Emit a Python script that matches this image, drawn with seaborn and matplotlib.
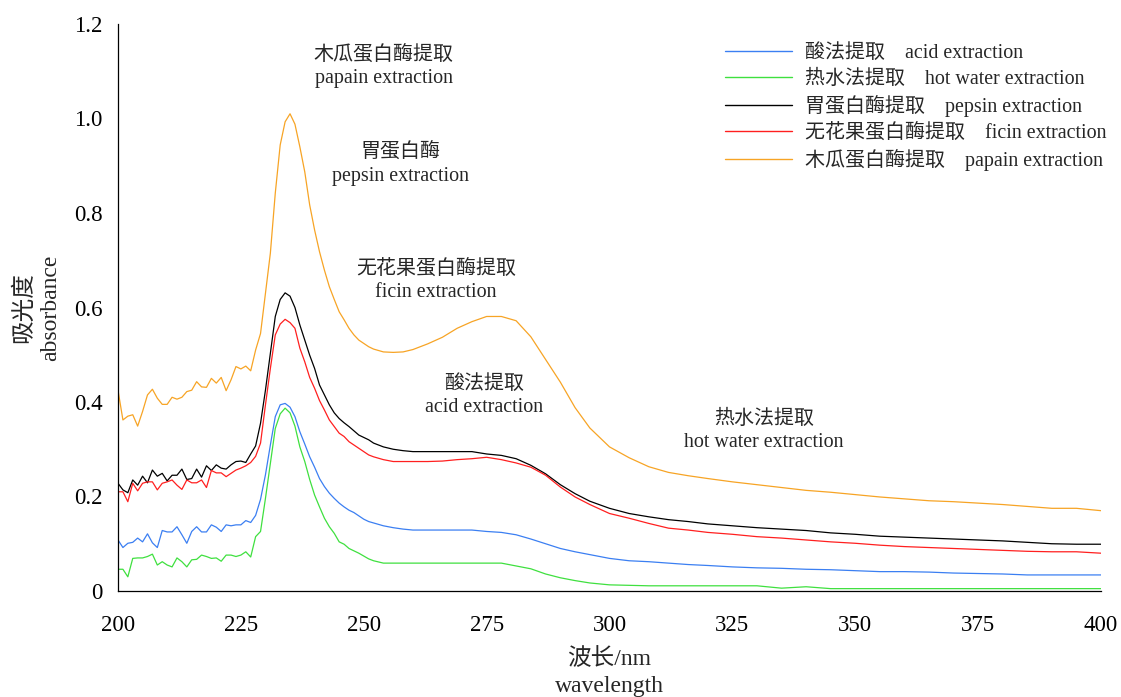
import numpy as np
import pandas as pd
import matplotlib
matplotlib.use("Agg")
import matplotlib.pyplot as plt
import seaborn as sns

wavelength = list(range(200, 253)) + [254, 256, 258, 260, 263, 266, 269, 272, 275, 278, 281, 284, 287, 290,
                                      293, 296, 300, 304, 308, 312, 316, 320, 325, 330, 335, 340, 345, 350,
                                      355, 360, 365, 370, 375, 380, 385, 390, 395, 400]

acid = [0.108, 0.092, 0.101, 0.103, 0.112, 0.104, 0.121, 0.102, 0.092, 0.128,
        0.125, 0.125, 0.136, 0.119, 0.101, 0.126, 0.136, 0.125, 0.125, 0.140,
        0.135, 0.126, 0.140, 0.138, 0.140, 0.140, 0.149, 0.145, 0.160, 0.194,
        0.246, 0.309, 0.369, 0.394, 0.397, 0.389, 0.369, 0.337, 0.311, 0.284,
        0.262, 0.238, 0.221, 0.207, 0.196, 0.186, 0.178, 0.171, 0.166, 0.159,
        0.152, 0.147, 0.144,
        0.138, 0.134, 0.131, 0.129, 0.129, 0.129, 0.129, 0.129, 0.126, 0.124, 0.119, 0.110, 0.100, 0.090,
        0.083, 0.077, 0.069, 0.064, 0.062, 0.059, 0.056, 0.054, 0.051, 0.049, 0.048, 0.046, 0.045, 0.043,
        0.041, 0.041, 0.040, 0.038, 0.037, 0.036, 0.034, 0.034, 0.034, 0.034]

hot_water = [0.046, 0.046, 0.030, 0.069, 0.070, 0.070, 0.073, 0.078, 0.055, 0.062,
             0.055, 0.051, 0.070, 0.062, 0.051, 0.066, 0.067, 0.076, 0.073, 0.069,
             0.070, 0.063, 0.076, 0.076, 0.073, 0.076, 0.083, 0.072, 0.115, 0.126,
             0.196, 0.270, 0.344, 0.375, 0.387, 0.377, 0.349, 0.305, 0.274, 0.236,
             0.203, 0.178, 0.154, 0.136, 0.122, 0.104, 0.099, 0.090, 0.085, 0.080,
             0.074, 0.068, 0.064,
             0.059, 0.059, 0.059, 0.059, 0.059, 0.059, 0.059, 0.059, 0.059, 0.059, 0.053, 0.047, 0.036, 0.028,
             0.022, 0.017, 0.013, 0.012, 0.011, 0.011, 0.011, 0.011, 0.011, 0.011, 0.006, 0.009, 0.005, 0.005,
             0.005, 0.005, 0.005, 0.005, 0.005, 0.005, 0.005, 0.005, 0.005, 0.005]

pepsin = [0.228, 0.214, 0.208, 0.235, 0.224, 0.243, 0.229, 0.256, 0.243, 0.249,
          0.233, 0.245, 0.245, 0.258, 0.236, 0.238, 0.258, 0.241, 0.265, 0.255,
          0.267, 0.260, 0.258, 0.267, 0.274, 0.275, 0.272, 0.290, 0.307, 0.355,
          0.425, 0.503, 0.581, 0.617, 0.631, 0.624, 0.600, 0.563, 0.531, 0.499,
          0.471, 0.436, 0.415, 0.394, 0.377, 0.365, 0.356, 0.348, 0.339, 0.330,
          0.325, 0.320, 0.313,
          0.305, 0.300, 0.297, 0.295, 0.295, 0.295, 0.295, 0.295, 0.290, 0.287, 0.280, 0.266, 0.248, 0.225,
          0.206, 0.190, 0.175, 0.164, 0.157, 0.151, 0.147, 0.142, 0.138, 0.134, 0.131, 0.128, 0.123, 0.120,
          0.116, 0.114, 0.112, 0.110, 0.108, 0.106, 0.103, 0.100, 0.099, 0.099]

ficin = [0.210, 0.210, 0.189, 0.228, 0.212, 0.228, 0.231, 0.231, 0.214, 0.228,
         0.231, 0.235, 0.224, 0.215, 0.235, 0.229, 0.229, 0.235, 0.219, 0.255,
         0.250, 0.250, 0.242, 0.249, 0.256, 0.260, 0.265, 0.272, 0.285, 0.313,
         0.394, 0.471, 0.542, 0.565, 0.575, 0.568, 0.556, 0.514, 0.485, 0.452,
         0.429, 0.403, 0.383, 0.362, 0.348, 0.334, 0.327, 0.316, 0.309, 0.302,
         0.295, 0.288, 0.284,
         0.278, 0.274, 0.274, 0.274, 0.274, 0.275, 0.278, 0.280, 0.283, 0.278, 0.271, 0.262, 0.245, 0.220,
         0.199, 0.183, 0.164, 0.154, 0.143, 0.133, 0.129, 0.124, 0.120, 0.115, 0.112, 0.108, 0.104, 0.101,
         0.097, 0.094, 0.092, 0.090, 0.088, 0.086, 0.084, 0.083, 0.083, 0.080]

papain = [0.425, 0.362, 0.370, 0.373, 0.349, 0.380, 0.415, 0.427, 0.408, 0.395,
          0.395, 0.410, 0.406, 0.410, 0.422, 0.425, 0.443, 0.432, 0.431, 0.450,
          0.440, 0.452, 0.424, 0.447, 0.475, 0.470, 0.476, 0.466, 0.510, 0.545,
          0.630, 0.715, 0.842, 0.944, 0.993, 1.010, 0.988, 0.940, 0.887, 0.817,
          0.764, 0.718, 0.679, 0.644, 0.617, 0.591, 0.574, 0.556, 0.542, 0.531,
          0.524, 0.517, 0.512,
          0.506, 0.505, 0.506, 0.511, 0.523, 0.537, 0.556, 0.570, 0.581, 0.581, 0.572, 0.538, 0.490, 0.442,
          0.388, 0.345, 0.305, 0.282, 0.263, 0.251, 0.244, 0.238, 0.231, 0.225, 0.219, 0.213, 0.209, 0.204,
          0.199, 0.195, 0.191, 0.189, 0.186, 0.183, 0.179, 0.175, 0.175, 0.170]

legend_labels = ["酸法提取    acid extraction",
                 "热水法提取    hot water extraction",
                 "胃蛋白酶提取    pepsin extraction",
                 "无花果蛋白酶提取    ficin extraction",
                 "木瓜蛋白酶提取    papain extraction"]
colors = ["#3b7ff2", "#3fe03f", "#000000", "#ff1f1f", "#f7a425"]

annotations = [("木瓜蛋白酶提取\npapain extraction", 254.1, 1.109),
               ("胃蛋白酶\npepsin extraction", 257.4, 0.903),
               ("无花果蛋白酶提取\nficin extraction", 264.7, 0.657),
               ("酸法提取\nacid extraction", 274.5, 0.413),
               ("热水法提取\nhot water extraction", 331.4, 0.338)]

x_ticks = [200, 225, 250, 275, 300, 325, 350, 375, 400]
y_ticks = [0, 0.2, 0.4, 0.6, 0.8, 1.0, 1.2]
y_ticklabels = ["0", "0.2", "0.4", "0.6", "0.8", "1.0", "1.2"]

sns.set_theme(style="white")
plt.rcParams["font.family"] = ["Liberation Serif", "Noto Sans CJK SC"]
plt.rcParams["axes.unicode_minus"] = False

fig = plt.figure(figsize=(11.21, 6.97), dpi=100)
ax = fig.add_axes([118 / 1121, 1 - 591 / 697, (1101 - 118) / 1121, (591 - 24) / 697])

series = [acid, hot_water, pepsin, ficin, papain]
for vals, lab, col in zip(series, legend_labels, colors):
    df = pd.DataFrame({"wavelength": wavelength, "absorbance": vals})
    sns.lineplot(data=df, x="wavelength", y="absorbance", color=col, linewidth=0.9,
                 label=lab, ax=ax, sort=False)

ax.set_xlim(200, 400)
ax.set_ylim(0, 1.2)
ax.set_xticks(x_ticks)
ax.set_xticklabels([str(t) for t in x_ticks])
ax.set_yticks(y_ticks)
ax.set_yticklabels(y_ticklabels)
ax.tick_params(axis="both", direction="in", length=4, width=0.8, labelsize=16.5, colors="black")
ax.tick_params(axis="x", pad=17)
ax.tick_params(axis="y", pad=11)
for s in ["top", "right"]:
    ax.spines[s].set_visible(False)
for s in ["left", "bottom"]:
    ax.spines[s].set_color("black")
    ax.spines[s].set_linewidth(0.9)

ax.set_xlabel("波长/nm\nwavelength", fontsize=17, linespacing=1.42)
ax.set_ylabel("吸光度\nabsorbance", fontsize=17, linespacing=1.3)
ax.xaxis.set_label_coords(0.5, -0.1)
ax.yaxis.set_label_coords(-0.058, 0.5)

for txt, xx, yy in annotations:
    ax.text(xx, yy, txt, ha="center", va="center", fontsize=14.4, linespacing=1.3)

leg = ax.legend(loc="upper left", bbox_to_anchor=(725 / 1121, 1 - 44 / 697),
                bbox_transform=fig.transFigure, frameon=False, fontsize=14.4,
                handlelength=3.35, handletextpad=0.65, labelspacing=0.32,
                borderpad=0, borderaxespad=0)
for line in leg.get_lines():
    line.set_linewidth(1.0)

fig.savefig("out.png", dpi=100)
